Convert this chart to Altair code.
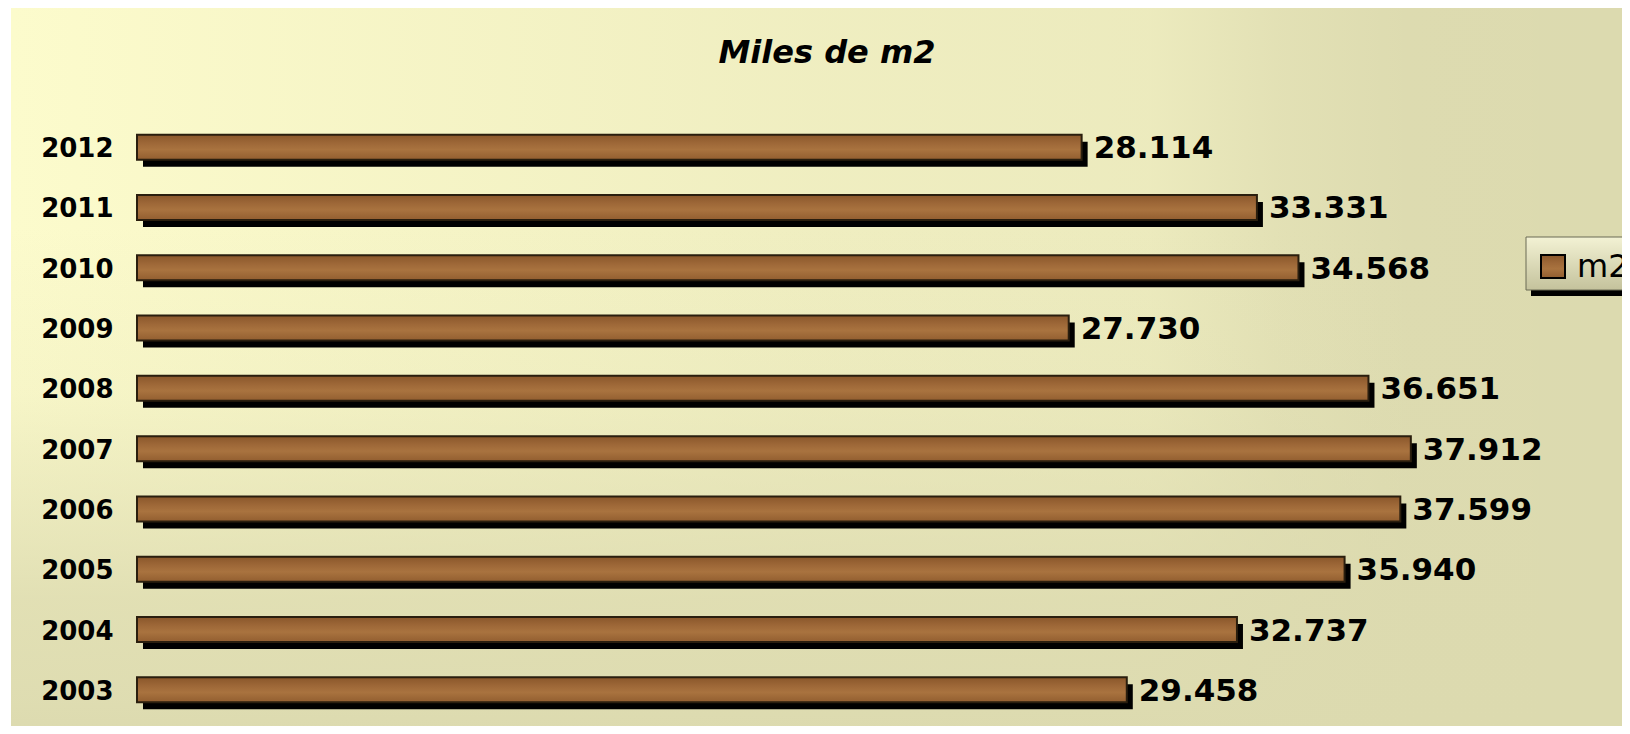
import altair as alt
import pandas as pd

# ---- data ----
years = ["2003", "2004", "2005", "2006", "2007", "2008", "2009", "2010", "2011", "2012"]
values = [29458, 32737, 35940, 37599, 37912, 36651, 27730, 34568, 33331, 28114]
series_name = ["m2"]
title_text = "Miles de m2"
x_domain = [0, 40000]

df = pd.DataFrame({"year": years, "value": values})
one = pd.DataFrame({"s": series_name})

W, H = 1344, 603
FONT = "DejaVu Sans"


def stops(pairs):
    return [alt.GradientStop(offset=o, color=c) for o, c in pairs]


wood = alt.LinearGradient(
    gradient="linear", x1=0, y1=0, x2=0, y2=1,
    stops=stops([(0, "#8A572B"), (0.35, "#9E6838"), (0.6, "#A9733F"), (1, "#925E30")]),
)

# background: dark khaki base, light yellow fading from the left, khaki fading in from the bottom
BG_DARK = "#DCDAAF"
light_h = alt.LinearGradient(
    gradient="linear", x1=0, y1=0, x2=1, y2=0,
    stops=stops([
        (0, "rgba(252,251,204,1)"), (0.5, "rgba(252,251,204,0.6)"),
        (0.7, "rgba(252,251,204,0.5)"), (0.78, "rgba(252,251,204,0.2)"),
        (0.86, "rgba(252,251,204,0.03)"), (1, "rgba(252,251,204,0)"),
    ]),
)
dark_v = alt.LinearGradient(
    gradient="linear", x1=0, y1=0, x2=0, y2=1,
    stops=stops([
        (0, "rgba(220,218,175,0)"), (0.3, "rgba(220,218,175,0)"),
        (0.53, "rgba(220,218,175,0.17)"), (0.65, "rgba(220,218,175,0.45)"),
        (0.81, "rgba(220,218,175,0.82)"), (0.95, "rgba(220,218,175,0.92)"),
        (1, "rgba(220,218,175,1)"),
    ]),
)

legend_grad = alt.LinearGradient(
    gradient="linear", x1=0, y1=0, x2=0, y2=1,
    stops=stops([(0, "#F3F2D4"), (1, "#C4C29C")]),
)

yenc = alt.Y(
    "year:N",
    sort=years[::-1],
    scale=alt.Scale(paddingInner=0.585, paddingOuter=0.2925),
    axis=alt.Axis(
        title=None, ticks=False, domain=False, grid=False, labelPadding=24,
        labelFontSize=26, labelFont=FONT, labelFontWeight="bold", labelColor="black",
        labelOffset=2, zindex=2,
    ),
)
xenc = alt.X("value:Q", scale=alt.Scale(domain=x_domain), axis=None)

bg_pos = dict(x=alt.value(-126), x2=alt.value(1500), y=alt.value(-109), y2=alt.value(620))
bg_base = alt.Chart(one).mark_rect(fill=BG_DARK).encode(**bg_pos)
bg_light = alt.Chart(one).mark_rect(fill=light_h).encode(**bg_pos)
bg_dark = alt.Chart(one).mark_rect(fill=dark_v).encode(**bg_pos)

base = alt.Chart(df).encode(x=xenc, y=yenc)

shadow = base.mark_bar(color="black", xOffset=6, x2Offset=6, yOffset=7, y2Offset=7)
bars = base.mark_bar(fill=wood, stroke="#2A1E0E", strokeWidth=2)
labels = base.transform_calculate(
    label="replace(format(datum.value, ','), ',', '.')"
).mark_text(
    align="left", baseline="middle", dx=12, dy=2, fontSize=31, fontWeight="bold",
    font=FONT, color="black",
).encode(text="label:N")

leg_shadow = alt.Chart(one).mark_rect(color="black").encode(
    x=alt.value(1394), x2=alt.value(1500), y=alt.value(126), y2=alt.value(179)
)
leg_box = alt.Chart(one).mark_rect(fill=legend_grad, stroke="#6B6A55", strokeWidth=1).encode(
    x=alt.value(1389), x2=alt.value(1500), y=alt.value(120), y2=alt.value(173)
)
leg_sym = alt.Chart(one).mark_rect(fill=wood, stroke="black", strokeWidth=2).encode(
    x=alt.value(1404), x2=alt.value(1428), y=alt.value(138), y2=alt.value(161)
)
leg_text = alt.Chart(one).mark_text(
    align="left", baseline="alphabetic", fontSize=32, font=FONT, color="black"
).encode(x=alt.value(1440), y=alt.value(160), text="s:N")

chart = alt.layer(
    bg_base, bg_light, bg_dark, shadow, bars, labels,
    leg_shadow, leg_box, leg_sym, leg_text,
).properties(
    width=W, height=H,
    title=alt.TitleParams(
        text=title_text, font=FONT, fontSize=32, fontWeight="bold", fontStyle="italic",
        color="black", anchor="middle", frame="group", baseline="alphabetic",
        dx=18, offset=-87,
    ),
    padding={"left": 129, "top": 109, "right": 141, "bottom": 6},
    autosize=alt.AutoSizeParams(type="none"),
    background="white",
).configure_view(strokeWidth=0)

chart.save("out.html", embed_options={"renderer": "svg", "actions": False})
